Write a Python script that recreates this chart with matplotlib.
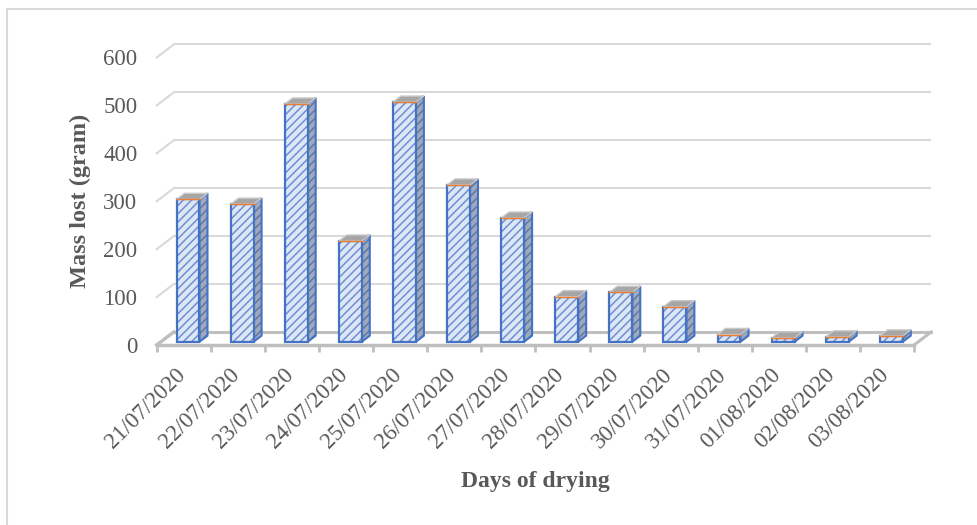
"""
Mass lost per day of drying, drawn as an Excel-style 3D column chart
(back wall grid, floor, hatched columns with side and top faces).
"""
import numpy as np
import matplotlib
matplotlib.use("Agg")
import matplotlib.pyplot as plt
import matplotlib.transforms as mtransforms
from matplotlib.patches import Polygon
from matplotlib.lines import Line2D

days = ["21/07/2020", "22/07/2020", "23/07/2020", "24/07/2020", "25/07/2020",
        "26/07/2020", "27/07/2020", "28/07/2020", "29/07/2020", "30/07/2020",
        "31/07/2020", "01/08/2020", "02/08/2020", "03/08/2020"]
mass_lost = [297, 287, 496, 210, 500, 327, 258, 94, 103, 73, 15, 8, 10, 12]
y_ticks = [0, 100, 200, 300, 400, 500, 600]

TEXT = "#595959"
GRID = "#d9d9d9"
FLOOR = "#bfbfbf"
BLUE = "#4472c4"
HATCH = "#6e8fd6"
FRONT = "#dde6f5"
SIDE = "#9fa9bb"
TOP = "#a6a6a6"
ORANGE = "#ed7d31"

plt.rcParams["font.family"] = ["Liberation Serif", "DejaVu Serif"]
plt.rcParams["hatch.linewidth"] = 1.1

W, H = 977, 525
fig = plt.figure(figsize=(W / 100, H / 100), dpi=100)

# front plane of the plot box, in pixels
x0, x1 = 156.7, 914.1
y_bot, y_top = 345.0, 57.5
ax = fig.add_axes([x0 / W, 1 - y_bot / H, (x1 - x0) / W, (y_bot - y_top) / H])
n = len(days)
ax.set_xlim(0, n)
ax.set_ylim(0, y_ticks[-1])

# depth of the floor (front edge -> back wall) in data units
px_per_cat = (x1 - x0) / n
px_per_g = (y_bot - y_top) / y_ticks[-1]
DX = 17 / px_per_cat
DY = 13 / px_per_g

# back wall gridlines + little diagonals on the side wall
for v in y_ticks[1:]:
    ax.plot([DX, n + DX], [v + DY, v + DY], color=GRID, lw=1.5,
            clip_on=False, zorder=1, solid_capstyle="butt")
    ax.plot([0, DX], [v, v + DY], color=GRID, lw=1.5, clip_on=False, zorder=1)

# floor outline
ax.plot([DX, n + DX], [DY, DY], color=FLOOR, lw=2.2, clip_on=False, zorder=1)
ax.plot([0, DX], [0, DY], color=FLOOR, lw=2.5, clip_on=False, zorder=1)
ax.plot([n, n + DX], [0, DY], color=FLOOR, lw=2.2, clip_on=False, zorder=1)

# columns: front face via ax.bar, side/top faces as polygons
xs = np.arange(n) + 0.5
f0, f1 = 0.25, 0.72          # front / back of column as fraction of floor depth
bw = 0.425
bx, by = (f1 - f0) * DX, (f1 - f0) * DY
left = xs - bw / 2 + f0 * DX
base = f0 * DY

# hatch layer, then the outline on top of it
ax.bar(left, mass_lost, width=bw, bottom=base, align="edge", color=FRONT,
       edgecolor=HATCH, hatch="////", linewidth=0, zorder=4, clip_on=False)
ax.bar(left, mass_lost, width=bw, bottom=base, align="edge", fill=False,
       edgecolor=BLUE, linewidth=1.6, zorder=4.5, clip_on=False)

for xl, v in zip(left, mass_lost):
    xr = xl + bw
    t = base + v
    pts = [(xr, base), (xr + bx, base + by), (xr + bx, t + by), (xr, t)]
    ax.add_patch(Polygon(pts, closed=True, facecolor=SIDE, edgecolor="#5f78a8",
                         hatch="////", linewidth=0, zorder=3, clip_on=False))
    ax.add_patch(Polygon(pts, closed=True, fill=False, edgecolor=BLUE,
                         linewidth=1.5, zorder=3.5, clip_on=False))
    top = Polygon([(xl, t), (xr, t), (xr + bx, t + by), (xl + bx, t + by)],
                  closed=True, facecolor=TOP, edgecolor="#c9c9c9",
                  linewidth=1.0, zorder=5, clip_on=False)
    ax.add_patch(top)
    ax.plot([xl, xr], [t, t], color=ORANGE, lw=1.0, zorder=6, clip_on=False)

# axes: front floor edge is the bottom spine
for s in ["top", "right", "left"]:
    ax.spines[s].set_visible(False)
ax.spines["bottom"].set_color(FLOOR)
ax.spines["bottom"].set_linewidth(2.5)
ax.patch.set_visible(False)

ax.set_yticks(y_ticks)
ax.tick_params(axis="y", length=0, pad=14, labelsize=16.5, labelcolor=TEXT)

ax.set_xticks(xs)
ax.set_xticklabels(days, rotation=45, ha="right", va="top")
ax.set_xticks(np.arange(n + 1), minor=True)
ax.tick_params(axis="x", which="major", length=0, pad=0, labelsize=16.5,
               labelcolor=TEXT)
ax.tick_params(axis="x", which="minor", length=5, width=2, color=FLOOR,
               direction="out")
shift = mtransforms.ScaledTranslation(6 / 100, -19 / 100, fig.dpi_scale_trans)
for lab in ax.get_xticklabels():
    lab.set_transform(lab.get_transform() + shift)

ax.set_ylabel("Mass lost (gram)", fontsize=17.5, fontweight="bold", color=TEXT)
ax.yaxis.set_label_coords(-0.0867, 0.5)
ax.set_xlabel("Days of drying", fontsize=17, fontweight="bold", color=TEXT)
ax.xaxis.set_label_coords(0.5, -0.44)

# chart area border (left and top edges)
fig.add_artist(Line2D([6.5 / W, 6.5 / W, 1.0], [0, 1 - 8.5 / H, 1 - 8.5 / H],
                      transform=fig.transFigure, color=GRID, lw=1.5))

fig.savefig("out.png", dpi=100)
